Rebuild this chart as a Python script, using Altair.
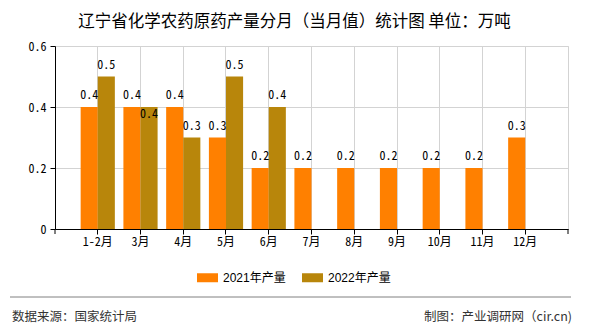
import altair as alt
import pandas as pd

months = ["1-2月", "3月", "4月", "5月", "6月", "7月", "8月", "9月", "10月", "11月", "12月"]
prod_2021 = [0.4, 0.4, 0.4, 0.3, 0.2, 0.2, 0.2, 0.2, 0.2, 0.2, 0.3]
prod_2022 = [0.5, 0.4, 0.3, 0.5, 0.4, None, None, None, None, None, None]
series_names = ["2021年产量", "2022年产量"]
colors = ["#FF8000", "#B8860B"]
y_ticks = [0, 0.2, 0.4, 0.6]
title_text = "辽宁省化学农药原药产量分月（当月值）统计图 单位：万吨"
source_text = "数据来源：国家统计局"
credit_text = "制图：产业调研网（cir.cn)"

rows = []
for m, a, b in zip(months, prod_2021, prod_2022):
    rows.append({"month": m, "series": series_names[0], "value": a})
    if b is not None:
        rows.append({"month": m, "series": series_names[1], "value": b})
df = pd.DataFrame(rows)

W, H = 513, 183
MONO = "Noto Sans Mono CJK SC, Liberation Mono, monospace"
SANS = "Noto Sans CJK SC, sans-serif"
GRID = "#d3d3d3"

x_enc = alt.X(
    "month:N", sort=months,
    scale=alt.Scale(paddingInner=0.2, paddingOuter=0.6),
    axis=alt.Axis(title=None, labelAngle=0, grid=True, gridColor=GRID,
                  domainColor="#000", tickColor="#000", tickSize=5,
                  labelPadding=2, labelFont=MONO, labelFontSize=12,
                  labelColor="#000"),
)
xoff_enc = alt.XOffset("series:N", sort=series_names,
                       scale=alt.Scale(paddingInner=0, paddingOuter=0))
y_enc = alt.Y(
    "value:Q",
    scale=alt.Scale(domain=[0, 0.6], nice=False),
    axis=alt.Axis(title=None, values=y_ticks, format="~g", grid=True,
                  gridColor=GRID, domainColor="#000", tickColor="#000",
                  tickSize=5, labelPadding=4, labelFont=MONO,
                  labelFontSize=12, labelColor="#000"),
)

base = alt.Chart(df).encode(x=x_enc, xOffset=xoff_enc, y=y_enc)

bars = base.mark_bar().encode(
    color=alt.Color(
        "series:N", sort=series_names,
        scale=alt.Scale(domain=series_names, range=colors),
        legend=alt.Legend(
            title=None, orient="none", legendX=142, legendY=221,
            direction="horizontal",
            symbolType="M-1,-0.4286L1,-0.4286L1,0.4286L-1,0.4286Z",
            symbolSize=441, symbolStrokeWidth=0, symbolOpacity=1,
            labelFont="Liberation Sans, Noto Sans CJK SC, sans-serif",
            labelFontSize=12, labelColor="#000", labelOffset=5,
            columnPadding=16, padding=0,
        ),
    )
)

is_shifted = (alt.datum.month == "3月") & (alt.datum.series == "2022年产量")

labels = base.mark_text(
    baseline="alphabetic", dy=-8, font=MONO, fontSize=12, color="#000"
).encode(text=alt.Text("value:Q", format=".1f")).transform_filter(~is_shifted)

labels_shifted = base.mark_text(
    baseline="alphabetic", dy=11, font=MONO, fontSize=12, color="#000"
).encode(text=alt.Text("value:Q", format=".1f")).transform_filter(is_shifted)

one = pd.DataFrame({"k": [0]})
tick_left = alt.Chart(one).mark_rule(color="#000").encode(
    x=alt.value(0), y=alt.value(H), y2=alt.value(H + 5))
tick_right = alt.Chart(one).mark_rule(color="#000").encode(
    x=alt.value(W), y=alt.value(H), y2=alt.value(H + 5))

footer_line = alt.Chart(one).mark_rule(color="#808080", strokeWidth=1).encode(
    x=alt.value(10 - 55), x2=alt.value(571 - 55), y=alt.value(297 - 46))
footer_left = alt.Chart(one).mark_text(
    text=source_text, align="left", baseline="middle", font=SANS,
    fontSize=12.5, color="#333").encode(x=alt.value(12 - 55), y=alt.value(317 - 46))
footer_right = alt.Chart(one).mark_text(
    text=credit_text, align="right", baseline="middle", font=SANS,
    fontSize=12.5, color="#333").encode(x=alt.value(572 - 55), y=alt.value(317 - 46))

chart = alt.layer(
    bars, labels, labels_shifted, tick_left, tick_right,
    footer_line, footer_left, footer_right
).properties(
    width=W, height=H,
    title=alt.Title(title_text, fontSize=16.5, font=SANS, fontWeight="normal",
                    color="#000", anchor="middle", dx=-17, offset=-3,
                    baseline="alphabetic"),
    autosize=alt.AutoSizeParams(type="none"),
    padding={"left": 55, "top": 46, "right": 22, "bottom": 101},
    background="white",
).configure_view(stroke=GRID)

chart.save("out.html", embed_options={"renderer": "svg", "actions": False})
